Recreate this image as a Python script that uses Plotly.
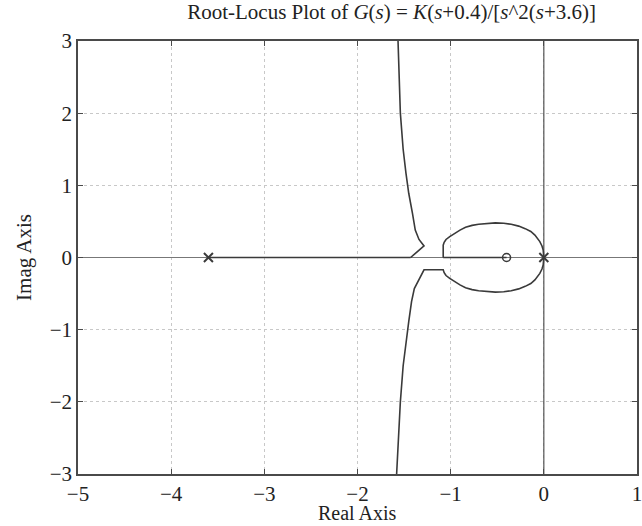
import plotly.graph_objects as go

# Root-locus branches (real, imag)
upper_loop_re = [0.0, -0.002, -0.007, -0.02, -0.043, -0.096, -0.14, -0.20, -0.27, -0.35, -0.43, -0.52,
                 -0.61, -0.70, -0.77, -0.84, -0.90, -0.96, -1.01, -1.05, -1.07, -1.08, -1.08]
upper_loop_im = [0.0, 0.05, 0.104, 0.16, 0.22, 0.31, 0.36, 0.40, 0.435, 0.46, 0.475, 0.48,
                 0.475, 0.46, 0.445, 0.42, 0.38, 0.335, 0.29, 0.25, 0.21, 0.17, 0.0]

lower_loop_re = [0.0, -0.002, -0.007, -0.02, -0.043, -0.096, -0.14, -0.20, -0.27, -0.35, -0.43, -0.52,
                 -0.61, -0.70, -0.77, -0.84, -0.90, -0.96, -1.01, -1.05, -1.07, -1.08, -1.286,
                 -1.39, -1.42, -1.45, -1.48, -1.51, -1.54, -1.56, -1.58]
lower_loop_im = [0.0, -0.05, -0.104, -0.16, -0.22, -0.31, -0.36, -0.40, -0.435, -0.46, -0.475, -0.48,
                 -0.475, -0.46, -0.445, -0.42, -0.38, -0.335, -0.29, -0.25, -0.21, -0.17, -0.17,
                 -0.43, -0.61, -0.89, -1.17, -1.50, -2.0, -2.5, -3.0]

upper_branch_re = [-1.43, -1.286, -1.34, -1.38, -1.41, -1.45, -1.48, -1.51, -1.54, -1.555, -1.565]
upper_branch_im = [0.0, 0.16, 0.25, 0.38, 0.61, 0.89, 1.17, 1.50, 2.0, 2.5, 3.0]

real_seg1_re = [-3.6, -1.43]
real_seg2_re = [-1.08, -0.4]

poles_re = [-3.6, 0.0]
zeros_re = [-0.4]

x_ticks = [-5, -4, -3, -2, -1, 0, 1]
y_ticks = [-3, -2, -1, 0, 1, 2, 3]

LOCUS = "#3a3a3a"
AXC = "#4a4a4a"
FONT = "Liberation Serif"
TXT = "#222222"

fig = go.Figure()

# axis lines through origin
fig.add_trace(go.Scatter(x=[-5, 1], y=[0, 0], mode="lines",
                         line=dict(color="#777777", width=1), hoverinfo="skip"))
fig.add_trace(go.Scatter(x=[0, 0], y=[-3, 3], mode="lines",
                         line=dict(color="#555555", width=1.2), hoverinfo="skip"))

for xs, ys in [(upper_loop_re, upper_loop_im), (lower_loop_re, lower_loop_im),
               (upper_branch_re, upper_branch_im),
               (real_seg1_re, [0] * len(real_seg1_re)), (real_seg2_re, [0] * len(real_seg2_re))]:
    fig.add_trace(go.Scatter(x=xs, y=ys, mode="lines",
                             line=dict(color=LOCUS, width=1.6)))

fig.add_trace(go.Scatter(x=poles_re, y=[0] * len(poles_re), mode="markers",
                         marker=dict(symbol="x-thin-open", size=9, color=LOCUS,
                                     line=dict(width=2, color=LOCUS))))
fig.add_trace(go.Scatter(x=zeros_re, y=[0] * len(zeros_re), mode="markers",
                         marker=dict(symbol="circle-open", size=8, color=LOCUS,
                                     line=dict(width=1.5, color=LOCUS))))

axis_common = dict(showline=True, linecolor=AXC, linewidth=1.5, mirror="ticks",
                   ticks="inside", ticklen=5, tickcolor=AXC, zeroline=False,
                   showgrid=True, gridcolor="#c8c8c8", griddash="dot", gridwidth=1,
                   ticklabeloverflow="allow",
                   tickfont=dict(family=FONT, size=21, color=TXT))

fig.update_layout(
    width=642, height=526,
    margin=dict(l=78, r=0, t=41, b=52),
    paper_bgcolor="white", plot_bgcolor="white",
    showlegend=False,
    title=dict(text="Root-Locus Plot of <i>G</i>(<i>s</i>) = <i>K</i>(<i>s</i>+0.4)/[<i>s</i>^2(<i>s</i>+3.6)]",
               x=0.61, xanchor="center", y=0.978, yanchor="middle",
               font=dict(family=FONT, size=21, color=TXT)),
    xaxis=dict(range=[-5, 1], tickvals=x_ticks, **axis_common),
    yaxis=dict(range=[-3, 3], tickvals=y_ticks,
               title=dict(text="Imag Axis", font=dict(family=FONT, size=21, color=TXT), standoff=12),
               **axis_common),
    annotations=[dict(text="Real Axis", xref="paper", yref="paper", x=0.5, y=0,
                      xanchor="center", yanchor="top", yshift=-26, showarrow=False,
                      font=dict(family=FONT, size=20, color=TXT))],
)

fig.write_html("out.html", config={"displayModeBar": False},
               post_script="document.body.style.margin='0';")
